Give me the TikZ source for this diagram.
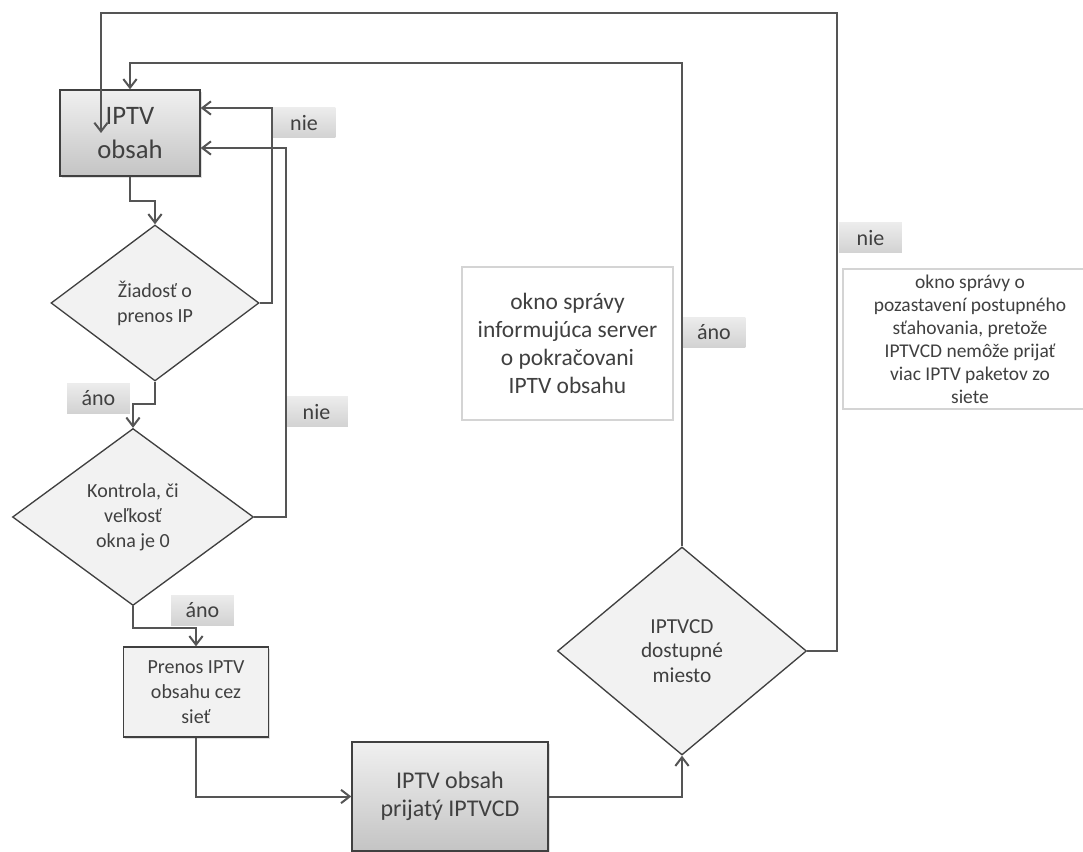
\documentclass[tikz,border=0pt]{standalone}
\usepackage{fontspec}
\setmainfont{Carlito}
\usetikzlibrary{arrows.meta,shapes.geometric,calc,shadows}
\definecolor{ink}{HTML}{404040}
\definecolor{wire}{HTML}{555555}
\definecolor{pale}{HTML}{F2F2F2}
\definecolor{shadetop}{HTML}{F0F0F0}
\definecolor{shadebot}{HTML}{C4C4C4}
\definecolor{tagtop}{HTML}{ECECEC}
\definecolor{tagbot}{HTML}{D2D2D2}
\definecolor{frame}{HTML}{D4D4D4}

\begin{document}
\begin{tikzpicture}[x=0.75pt, y=-0.75pt,
  font=\fontsize{15}{18.75}\selectfont, text=ink,
  box/.style={draw=ink, line width=1pt, align=center, inner sep=2pt,
    drop shadow={shadow xshift=1.2pt, shadow yshift=-1.2pt, opacity=.25}},
  shadedbox/.style={box, top color=shadetop, bottom color=shadebot},
  plainbox/.style={box, fill=pale},
  decision/.style={diamond, draw=ink, line width=1pt, fill=pale, align=center, inner sep=0pt},
  msgbox/.style={draw=frame, line width=.9pt, fill=white, align=center},
  tag/.style={top color=tagtop, bottom color=tagbot, minimum width=47pt, minimum height=22.5pt,
    inner sep=0pt, font=\fontsize{16.5}{19}\selectfont},
  flow/.style={-{Straight Barb[length=6.5pt,width=10pt]}, draw=wire, line width=1.5pt}
]
  \useasboundingbox (0,0) rectangle (1083,852);
  \clip (0,0) rectangle (1083,852);

  \node[shadedbox, minimum width=105pt, minimum height=64.5pt, font=\fontsize{20}{25.5}\selectfont] (obsah) at (130,133) {IPTV\\obsah};
  \node[decision, minimum width=156pt, minimum height=117pt] (ziadost) at (155,303) {Žiadosť o\\prenos IP};
  \node[decision, minimum width=180.75pt, minimum height=132.75pt] (kontrola) at (133,517) {Kontrola, či\\veľkosť\\okna je 0};
  \node[plainbox, minimum width=108.75pt, minimum height=67.5pt] (prenos) at (196,692) {Prenos IPTV\\obsahu cez\\sieť};
  \node[shadedbox, minimum width=147pt, minimum height=81.75pt, font=\fontsize{18}{21}\selectfont] (prijaty) at (450,796.5) {IPTV obsah\\prijatý IPTVCD};
  \node[decision, minimum width=186.75pt, minimum height=156pt, font=\fontsize{16}{18.5}\selectfont] (miesto) at (682,651) {IPTVCD\\dostupné\\miesto};

  % message windows
  \node[msgbox, minimum width=158.25pt, minimum height=114.75pt, font=\fontsize{17.6}{20.8}\selectfont] (sprava) at (567.5,343.5) {okno správy\\informujúca server\\o pokračovani\\IPTV obsahu};
  \node[msgbox, minimum width=190.5pt, minimum height=105pt, font=\fontsize{14.6}{17.25}\selectfont] (pozast) at (970,339) {okno správy o\\pozastavení postupného\\sťahovania, pretože\\IPTVCD nemôže prijať\\viac IPTV paketov zo\\siete};

  \node[tag] (nie1) at (304,123) {nie};
  \node[tag] (ano1) at (98.5,398.5) {áno};
  \node[tag] (nie2) at (316.5,412) {nie};
  \node[tag] (ano2) at (202.5,610) {áno};
  \node[tag] (ano3) at (714,332.5) {áno};
  \node[tag] (nie3) at (870.5,238) {nie};

  \coordinate (topin) at (130,63);
  \coordinate (outer) at (837,13);
  \coordinate (tip) at (101,133);

  \draw[flow] (obsah.south) -- ++(0,24) -| (ziadost.north);
  \draw[flow] (ziadost.south) -- ++(0,22) -| (kontrola.north);
  \draw[flow] (ziadost.east) -- ++(12,0) |- ($(obsah.east)+(0,-25)$);
  \draw[flow] (kontrola.east) -- ++(32,0) |- ($(obsah.east)+(0,15)$);
  \draw[flow] (kontrola.south) -- ++(0,22) -| (prenos.north);
  \draw[flow] (prenos.south) |- (prijaty.west);
  \draw[flow] (prijaty.east) -| (miesto.south);
  \draw[flow] (miesto.north) |- (topin) -- (obsah.north);
  \draw[flow] (miesto.east) -| (outer) -| (tip);
\end{tikzpicture}
\end{document}
